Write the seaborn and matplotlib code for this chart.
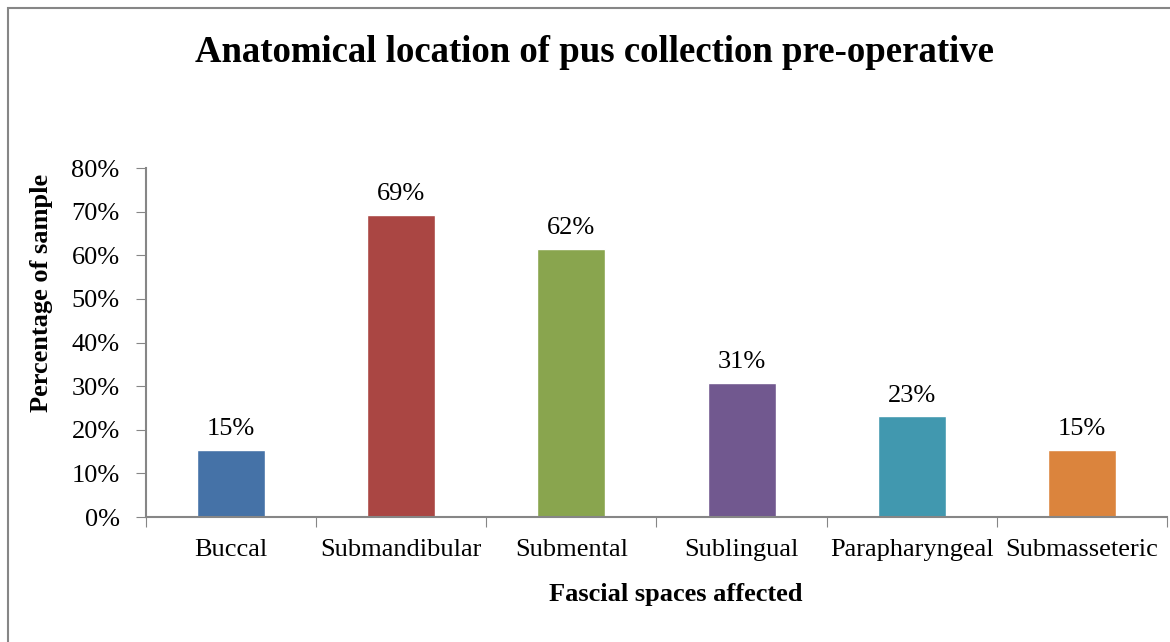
import numpy as np
import pandas as pd
import seaborn as sns
import matplotlib.pyplot as plt
from matplotlib.patches import Rectangle

# Data (percent of sample)
spaces = ['Buccal', 'Submandibular', 'Submental', 'Sublingual', 'Parapharyngeal', 'Submasseteric']
percent = [15.4, 69.2, 61.5, 30.8, 23.1, 15.4]
bar_labels = ['15%', '69%', '62%', '31%', '23%', '15%']
colors = ['#4572A7', '#AA4643', '#89A54E', '#71588F', '#4198AF', '#DB843D']

df = pd.DataFrame({'space': spaces, 'percent': percent})

sns.set_style('white')
plt.rcParams['font.family'] = ['Liberation Serif', 'DejaVu Serif']
plt.rcParams['text.color'] = 'black'
plt.rcParams['axes.labelcolor'] = 'black'
plt.rcParams['xtick.labelcolor'] = 'black'
plt.rcParams['ytick.labelcolor'] = 'black'

fig = plt.figure(figsize=(11.7, 6.42), dpi=100)
ax = fig.add_axes([0.1248, 0.1947, 0.8726, 0.5436])

sns.barplot(data=df, x='space', y='percent', hue='space', palette=colors,
            width=0.4, legend=False, saturation=1, ax=ax)

# value labels above bars
for i, (v, lab) in enumerate(zip(percent, bar_labels)):
    ax.annotate(lab, (i, v), xytext=(0, 7), textcoords='offset points',
                ha='center', va='bottom', fontsize=19)

ax.set_ylim(0, 80)
ax.set_xlim(-0.5, len(spaces) - 0.5)
ax.set_yticks(np.arange(0, 81, 10))
ax.set_yticklabels([f'{t}%' for t in range(0, 81, 10)], fontsize=19)

# category labels centred, ticks at the boundaries
ax.set_xticks(np.arange(-0.5, len(spaces)), minor=False)
ax.set_xticklabels([''] * (len(spaces) + 1))
ax.set_xticks(np.arange(len(spaces)), minor=True)
ax.set_xticklabels(spaces, minor=True, fontsize=19)
ax.tick_params(axis='x', which='minor', length=0, pad=16)
ax.tick_params(axis='x', which='major', length=7, color='#868686', direction='out', bottom=True)
ax.tick_params(axis='y', length=7, color='#868686', direction='out', left=True, pad=12)

for side in ['top', 'right']:
    ax.spines[side].set_visible(False)
for side in ['left', 'bottom']:
    ax.spines[side].set_color('#868686')
    ax.spines[side].set_linewidth(1.5)

ax.set_xlabel('Fascial spaces affected', fontsize=19, fontweight='bold')
ax.set_ylabel('Percentage of sample', fontsize=19, fontweight='bold')
ax.xaxis.set_label_coords(0.519, -0.223)
ax.xaxis.label.set_va('center')
ax.yaxis.set_label_coords(-0.102, 0.642)
ax.yaxis.label.set_va('center')

fig.text(0.508, 0.918, 'Anatomical location of pus collection pre-operative',
         ha='center', va='center', fontsize=26.5, fontweight='bold')

# outer chart border
fig.patches.append(Rectangle((8 / 1170, -0.01), 1.02, 1 - 8 / 642 + 0.01,
                             transform=fig.transFigure, fill=False,
                             edgecolor='#868686', linewidth=1.5))

fig.savefig('out.png', dpi=100)
